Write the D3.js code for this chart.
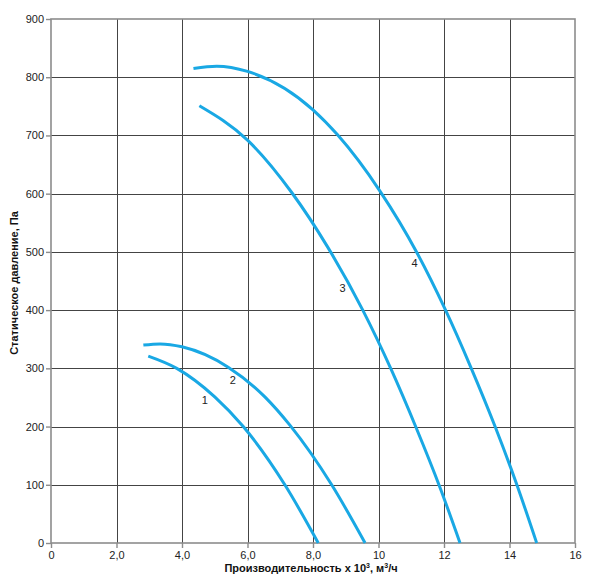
<!DOCTYPE html>
<html>
<head>
<meta charset="utf-8">
<script src="https://d3js.org/d3.v7.min.js"></script>
<style>
  body { margin: 0; background: #fff; }
  text { font-family: "Liberation Sans", Arial, sans-serif; }
</style>
</head>
<body>
<script>
// axis setup
var xTicks = [0, 2, 4, 6, 8, 10, 12, 14, 16];
var xTickLabels = ["0", "2,0", "4,0", "6,0", "8,0", "10", "12", "14", "16"];
var yTicks = [0, 100, 200, 300, 400, 500, 600, 700, 800, 900];

// curves: [flow x10^3 m3/h, pressure Pa]
var curve1 = [[2.97, 321], [3.84, 300], [5, 251], [5.87, 200], [7.14, 100], [8.16, 0]];
var curve2 = [[2.82, 340], [3.33, 342], [4, 337], [5.41, 302], [6.53, 251], [7.3, 202], [8.57, 100], [9.59, 0]];
var curve3 = [[4.53, 751], [6, 692], [7.35, 602], [8.44, 509], [9.52, 400], [10.38, 299], [11.15, 198], [11.88, 95], [12.49, 0]];
var curve4 = [[4.35, 815], [5.06, 819], [6, 810], [8, 744], [8.75, 701], [10.05, 604], [11.17, 499], [12.03, 402], [12.81, 303], [13.56, 200], [14.2, 104], [14.83, 0]];

var curveNames = ["1", "2", "3", "4"];
var labelPos = [[4.7, 245], [5.55, 280], [8.9, 438], [11.1, 480]];

var width = 600, height = 583;
var m = { left: 51, right: 575, top: 19, bottom: 543 };

var svg = d3.select("body").append("svg")
    .attr("width", width)
    .attr("height", height);

var x = d3.scaleLinear().domain([0, 16]).range([m.left, m.right]);
var y = d3.scaleLinear().domain([0, 900]).range([m.bottom, m.top]);

// grid
svg.append("g").selectAll("line")
    .data(xTicks.slice(1, -1))
    .enter().append("line")
    .attr("x1", function (d) { return Math.round(x(d)) + 0.5; })
    .attr("x2", function (d) { return Math.round(x(d)) + 0.5; })
    .attr("y1", m.top).attr("y2", m.bottom)
    .attr("stroke", "#444").attr("stroke-width", 1);

svg.append("g").selectAll("line")
    .data(yTicks.slice(1, -1))
    .enter().append("line")
    .attr("y1", function (d) { return Math.round(y(d)) + 0.5; })
    .attr("y2", function (d) { return Math.round(y(d)) + 0.5; })
    .attr("x1", m.left).attr("x2", m.right)
    .attr("stroke", "#444").attr("stroke-width", 1);

// frame
svg.append("rect")
    .attr("x", m.left).attr("y", m.top)
    .attr("width", m.right - m.left).attr("height", m.bottom - m.top)
    .attr("fill", "none").attr("stroke", "#8c8c8c").attr("stroke-width", 1.6);

// axes
var xAxis = svg.append("g")
    .attr("transform", "translate(0," + m.bottom + ")")
    .call(d3.axisBottom(x).tickValues(xTicks).tickSize(5).tickPadding(3)
        .tickFormat(function (d, i) { return xTickLabels[i]; }));
var yAxis = svg.append("g")
    .attr("transform", "translate(" + m.left + ",0)")
    .call(d3.axisLeft(y).tickValues(yTicks).tickSize(5).tickPadding(2));

[xAxis, yAxis].forEach(function (a) {
    a.select(".domain").remove();
    a.selectAll(".tick line").attr("stroke", "#8c8c8c").attr("stroke-width", 1.4);
    a.selectAll(".tick text").attr("fill", "#222")
        .style("font-family", '"Liberation Sans", Arial, sans-serif')
        .style("font-size", "11px");
});

// curves
var line = d3.line()
    .x(function (d) { return x(d[0]); })
    .y(function (d) { return y(d[1]); })
    .curve(d3.curveMonotoneX);

svg.append("g").selectAll("path")
    .data([curve1, curve2, curve3, curve4])
    .enter().append("path")
    .attr("d", line)
    .attr("fill", "none")
    .attr("stroke", "#19a8e4")
    .attr("stroke-width", 3)
    .attr("stroke-linecap", "butt");

// curve numbers
svg.append("g").selectAll("text")
    .data(curveNames)
    .enter().append("text")
    .attr("x", function (d, i) { return x(labelPos[i][0]); })
    .attr("y", function (d, i) { return y(labelPos[i][1]); })
    .attr("text-anchor", "middle")
    .attr("dy", "0.35em")
    .attr("fill", "#222")
    .style("font-size", "11px")
    .text(function (d) { return d; });

// axis titles
var xt = svg.append("text")
    .attr("x", 311).attr("y", 572)
    .attr("text-anchor", "middle")
    .attr("fill", "#111")
    .style("font-size", "11px").style("font-weight", "bold");
xt.append("tspan").text("Производительность х 10");
xt.append("tspan").attr("dy", -4).style("font-size", "7px").text("3");
xt.append("tspan").attr("dy", 4).text(", м");
xt.append("tspan").attr("dy", -4).style("font-size", "7px").text("3");
xt.append("tspan").attr("dy", 4).text("/ч");

svg.append("text")
    .attr("transform", "translate(18,283) rotate(-90)")
    .attr("text-anchor", "middle")
    .attr("fill", "#111")
    .style("font-size", "11px").style("font-weight", "bold")
    .text("Статическое давление, Па");
</script>
</body>
</html>
